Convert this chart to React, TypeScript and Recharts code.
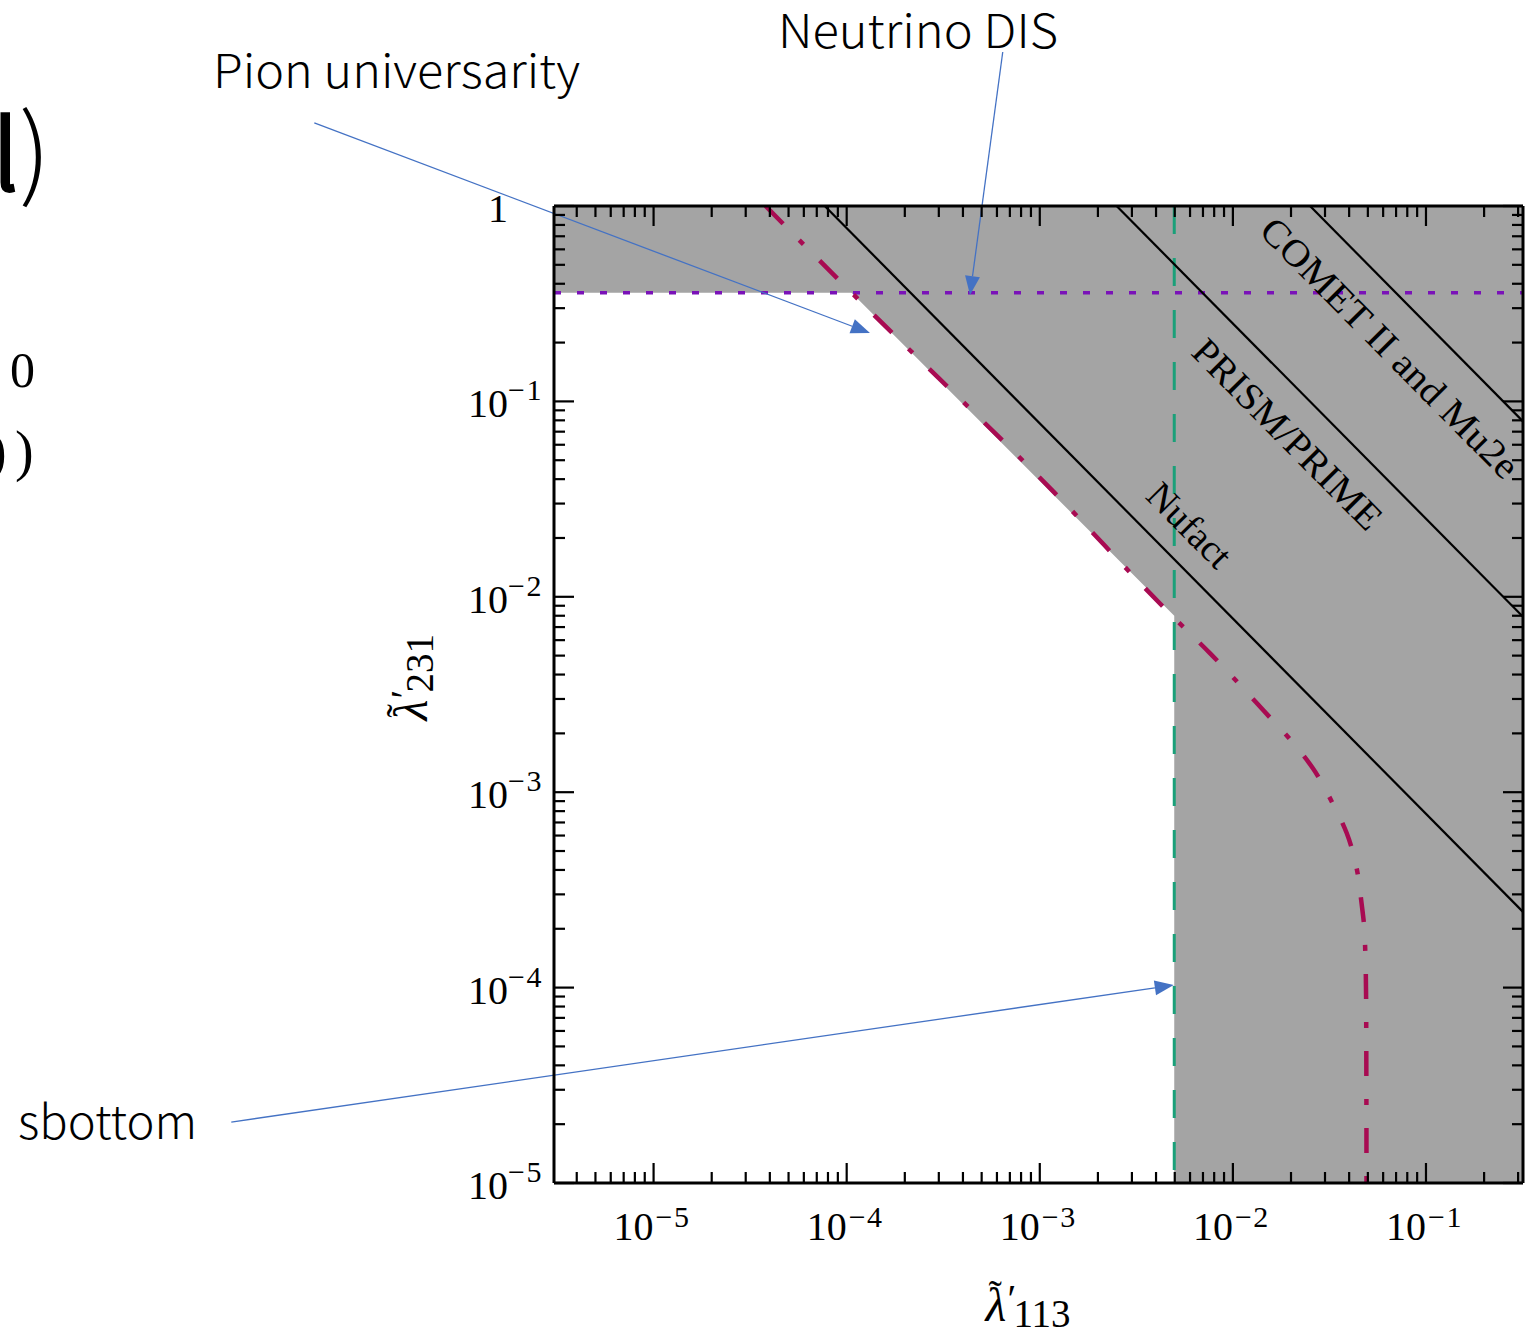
import React from "react";
import {
  Area,
  ComposedChart,
  Line,
  ReferenceDot,
  ReferenceLine,
  XAxis,
  YAxis,
} from "recharts";

// axis ranges
const X_MIN = 3.05e-6;
const X_MAX = 0.318;
const Y_MIN = 1e-5;
const Y_MAX = 1;

const xDecades = [1e-6, 1e-5, 1e-4, 1e-3, 1e-2, 1e-1];
const yDecades = [1e-5, 1e-4, 1e-3, 1e-2, 1e-1, 1];
const minorSteps = [2, 3, 4, 5, 6, 7, 8, 9];

// excluded (gray) region, lower boundary
const grayX = [X_MIN, 1.06e-4, 4.97e-3, 4.97e-3, X_MAX];
const grayY = [0.36, 0.36, 8.0e-3, Y_MIN, Y_MIN];

// pion universality bound (dash-dot)
const pionX = [
  3.8e-5, 1.06e-4, 1.13e-3, 4.9e-3, 7.6e-3, 0.0143, 0.0214, 0.0259, 0.0328,
  0.0388, 0.0437, 0.0463, 0.0481, 0.049, 0.0492,
];
const pionY = [
  1, 0.36, 0.036, 7.9e-3, 5.15e-3, 2.64e-3, 1.7e-3, 1.33e-3, 8.8e-4, 6.2e-4,
  4.1e-4, 2.74e-4, 1.9e-4, 8e-5, 1e-5,
];

// neutrino DIS (dotted)
const disX = [X_MIN, X_MAX];
const disY = [0.36, 0.36];

// sbottom (dashed)
const sbotX = [4.97e-3, 4.97e-3];
const sbotY = [Y_MAX, Y_MIN];

// future sensitivities (solid)
const nufactX = [7.7e-5, X_MAX];
const nufactY = [1, 2.44e-4];
const prismX = [2.5e-3, X_MAX];
const prismY = [1, 7.9e-3];
const cometX = [2.51e-2, X_MAX];
const cometY = [1, 7.9e-2];

// in-plot labels (centre of text)
const plotLabels = [
  { x: 0.0652, y: 0.188, text: "COMET II and Mu2e", len: 350 },
  { x: 0.0192, y: 0.068, text: "PRISM/PRIME", len: 252 },
  { x: 5.97e-3, y: 0.0233, text: "Nufact", len: 103 },
];

// annotation arrows (data coords, tail -> head)
const arrows = [
  { from: [1.75e-7, 2.66], to: [1.32e-4, 0.224] },
  { from: [6.43e-4, 6.14], to: [4.35e-4, 0.35] },
  { from: [6.5e-8, 2.05e-5], to: [4.94e-3, 1.03e-4] },
];

const zip = (xs: number[], ys: number[]) => xs.map((x, i) => ({ x, y: ys[i] }));

const buildTicks = (decades: number[], lo: number, hi: number) =>
  decades
    .flatMap((d) => [d, ...minorSteps.map((m) => d * m)])
    .filter((v) => v >= lo * 0.999 && v <= hi * 1.001)
    .sort((a, b) => a - b);

const xTicks = buildTicks(xDecades, X_MIN, X_MAX);
const yTicks = buildTicks(yDecades, Y_MIN, Y_MAX);

const SERIF = '"Liberation Serif", "DejaVu Serif", serif';
const SANS = '"Noto Sans CJK JP", "Noto Sans", sans-serif';

const isMajor = (v: number) => {
  const l = Math.log10(v);
  return Math.abs(l - Math.round(l)) < 1e-9;
};
const expText = (v: number) => {
  const e = Math.round(Math.log10(v));
  return e === 0 ? "" : `\u2212${-e}`;
};

const MAJOR = 20;
const MINOR = 11;

const BottomTick = (p: any) => {
  const { x, y, payload } = p;
  const v = payload.value;
  const major = isMajor(v);
  return (
    <g>
      <line x1={x} x2={x} y1={y} y2={y - (major ? MAJOR : MINOR)} stroke="#000" strokeWidth={2.2} />
      {major && (
        <g fontFamily={SERIF} fill="#000">
          <text x={x} y={y + 57} textAnchor="end" fontSize={40}>10</text>
          <text x={x + 2} y={y + 44} fontSize={30} letterSpacing={1.5}>{expText(v)}</text>
        </g>
      )}
    </g>
  );
};

const TopTick = (p: any) => {
  const { x, y, payload } = p;
  const major = isMajor(payload.value);
  return <line x1={x} x2={x} y1={y} y2={y + (major ? MAJOR : MINOR)} stroke="#000" strokeWidth={2.2} />;
};

const LeftTick = (p: any) => {
  const { x, y, payload } = p;
  const v = payload.value;
  const major = isMajor(v);
  const e = Math.round(Math.log10(v));
  return (
    <g>
      <line x1={x} x2={x + (major ? MAJOR : MINOR)} y1={y} y2={y} stroke="#000" strokeWidth={2.2} />
      {major && (
        <g fontFamily={SERIF} fill="#000">
          <text x={x - 46} y={y + 16} textAnchor="end" fontSize={40}>{e === 0 ? "1" : "10"}</text>
          <text x={x - 46} y={y - 1} fontSize={30} letterSpacing={1.5}>{expText(v)}</text>
        </g>
      )}
    </g>
  );
};

const RightTick = (p: any) => {
  const { x, y, payload } = p;
  const major = isMajor(payload.value);
  return <line x1={x} x2={x - (major ? MAJOR : MINOR)} y1={y} y2={y} stroke="#000" strokeWidth={2.2} />;
};

// λ̃'_sub, laid out around (cx, cy)
const Lambda = ({ cx, cy, sub, rotate }: { cx: number; cy: number; sub: string; rotate?: number }) => (
  <g transform={rotate ? `rotate(${rotate} ${cx} ${cy})` : undefined} fontFamily={SERIF} fill="#000">
    <text x={cx - 45} y={cy + 15} fontSize={48} fontStyle="italic">λ</text>
    <text x={cx - 42} y={cy + 2} fontSize={40}>˜</text>
    <text x={cx - 23} y={cy + 6} fontSize={40}>′</text>
    <text x={cx - 17} y={cy + 21} fontSize={39}>{sub}</text>
  </g>
);

const XLabel = (p: any) => {
  const vb = p.viewBox;
  return <Lambda cx={vb.x + vb.width / 2 - 8} cy={vb.y + 123} sub="113" />;
};

const YLabel = (p: any) => {
  const vb = p.viewBox;
  return <Lambda cx={vb.x - 22} cy={vb.y + vb.height / 2 - 19} sub="231" rotate={-90} />;
};

const ArrowShape = (p: any) => {
  const { x1, y1, x2, y2 } = p;
  const a = Math.atan2(y2 - y1, x2 - x1);
  const L = 19;
  const W = 7.5;
  const bx = x2 - L * Math.cos(a);
  const by = y2 - L * Math.sin(a);
  const nx = -Math.sin(a) * W;
  const ny = Math.cos(a) * W;
  return (
    <g>
      <line x1={x1} y1={y1} x2={bx} y2={by} stroke="#4472c4" strokeWidth={1.3} />
      <polygon points={`${x2},${y2} ${bx + nx},${by + ny} ${bx - nx},${by - ny}`} fill="#4472c4" />
    </g>
  );
};

const TextMark = (label: { text: string; len: number }) => (p: any) => (
  <text
    x={p.cx}
    y={p.cy}
    transform={`rotate(45.3 ${p.cx} ${p.cy})`}
    textAnchor="middle"
    dominantBaseline="central"
    fontFamily={SERIF}
    fontSize={38}
    fill="#000"
    textLength={label.len}
    lengthAdjust="spacingAndGlyphs"
  >
    {label.text}
  </text>
);

export default function App() {
  return (
    <div style={{ position: "relative", width: 1537, height: 1333, background: "#fff" }}>
      <style>{"body{margin:0}"}</style>
      <ComposedChart
        width={1537}
        height={1333}
        margin={{ top: 196, right: 4, bottom: 50, left: 434 }}
      >
        <Area
          data={zip(grayX, grayY)}
          dataKey="y"
          type="linear"
          baseValue={Y_MAX}
          stroke="none"
          fill="#a4a4a4"
          fillOpacity={1}
          isAnimationActive={false}
        />
        <Line data={zip(disX, disY)} dataKey="y" type="linear" stroke="#7a12b8" strokeWidth={3.5}
          strokeDasharray="7 16" dot={false} activeDot={false} isAnimationActive={false} />
        <Line data={zip(sbotX, sbotY)} dataKey="y" type="linear" stroke="#1aa079" strokeWidth={3}
          strokeDasharray="28 24" dot={false} activeDot={false} isAnimationActive={false} />
        <Line data={zip(nufactX, nufactY)} dataKey="y" type="linear" stroke="#000" strokeWidth={2.2}
          dot={false} activeDot={false} isAnimationActive={false} />
        <Line data={zip(prismX, prismY)} dataKey="y" type="linear" stroke="#000" strokeWidth={2.2}
          dot={false} activeDot={false} isAnimationActive={false} />
        <Line data={zip(cometX, cometY)} dataKey="y" type="linear" stroke="#000" strokeWidth={2.2}
          dot={false} activeDot={false} isAnimationActive={false} />
        <Line data={zip(pionX, pionY)} dataKey="y" type="monotoneY" stroke="#a80b52" strokeWidth={4.5}
          strokeDasharray="25 23 6 23" dot={false} activeDot={false} isAnimationActive={false} />

        {plotLabels.map((l) => (
          <ReferenceDot key={l.text} x={l.x} y={l.y} r={0} shape={TextMark(l)} />
        ))}

        <XAxis
          dataKey="x"
          type="number"
          scale="log"
          domain={[X_MIN, X_MAX]}
          allowDataOverflow
          ticks={xTicks}
          interval={0}
          tick={BottomTick}
          tickLine={false}
          tickSize={0}
          tickMargin={0}
          height={100}
          axisLine={{ stroke: "#000", strokeWidth: 3 }}
          label={{ content: XLabel }}
        />
        <XAxis
          xAxisId="top"
          orientation="top"
          dataKey="x"
          type="number"
          scale="log"
          domain={[X_MIN, X_MAX]}
          allowDataOverflow
          ticks={xTicks}
          interval={0}
          tick={TopTick}
          tickLine={false}
          tickSize={0}
          tickMargin={0}
          height={10}
          axisLine={{ stroke: "#000", strokeWidth: 3 }}
        />
        <YAxis
          type="number"
          scale="log"
          domain={[Y_MIN, Y_MAX]}
          allowDataOverflow
          ticks={yTicks}
          interval={0}
          tick={LeftTick}
          tickLine={false}
          tickSize={0}
          tickMargin={0}
          width={120}
          axisLine={{ stroke: "#000", strokeWidth: 3 }}
          label={{ content: YLabel }}
        />
        <YAxis
          yAxisId="right"
          orientation="right"
          type="number"
          scale="log"
          domain={[Y_MIN, Y_MAX]}
          allowDataOverflow
          ticks={yTicks}
          interval={0}
          tick={RightTick}
          tickLine={false}
          tickSize={0}
          tickMargin={0}
          width={10}
          axisLine={{ stroke: "#000", strokeWidth: 3 }}
        />

        {arrows.map((a, i) => (
          <ReferenceLine
            key={i}
            segment={[
              { x: a.from[0], y: a.from[1] },
              { x: a.to[0], y: a.to[1] },
            ]}
            ifOverflow="visible"
            shape={ArrowShape}
          />
        ))}
      </ComposedChart>

      {/* slide annotations around the figure */}
      <svg
        width={1537}
        height={1333}
        style={{ position: "absolute", left: 0, top: 0, pointerEvents: "none" }}
      >
        <g fontFamily={SANS} fontWeight={300} fontSize={46} fill="#000">
          <text x={778} y={48} textLength={280} lengthAdjust="spacingAndGlyphs">Neutrino DIS</text>
          <text x={213} y={88} textLength={367} lengthAdjust="spacingAndGlyphs">Pion universarity</text>
          <text x={18} y={1139} textLength={179} lengthAdjust="spacingAndGlyphs">sbottom</text>
          <text x={-7} y={190} fontSize={95} stroke="#000" strokeWidth={4}>l</text>
          <text x={19} y={188} fontSize={100}>)</text>
        </g>
        <g fontFamily={SERIF} fill="#000">
          <text x={10} y={387} fontSize={50}>0</text>
          <text x={-12} y={470} fontSize={56}>)</text>
          <text x={15} y={470} fontSize={56}>)</text>
        </g>
      </svg>
    </div>
  );
}
